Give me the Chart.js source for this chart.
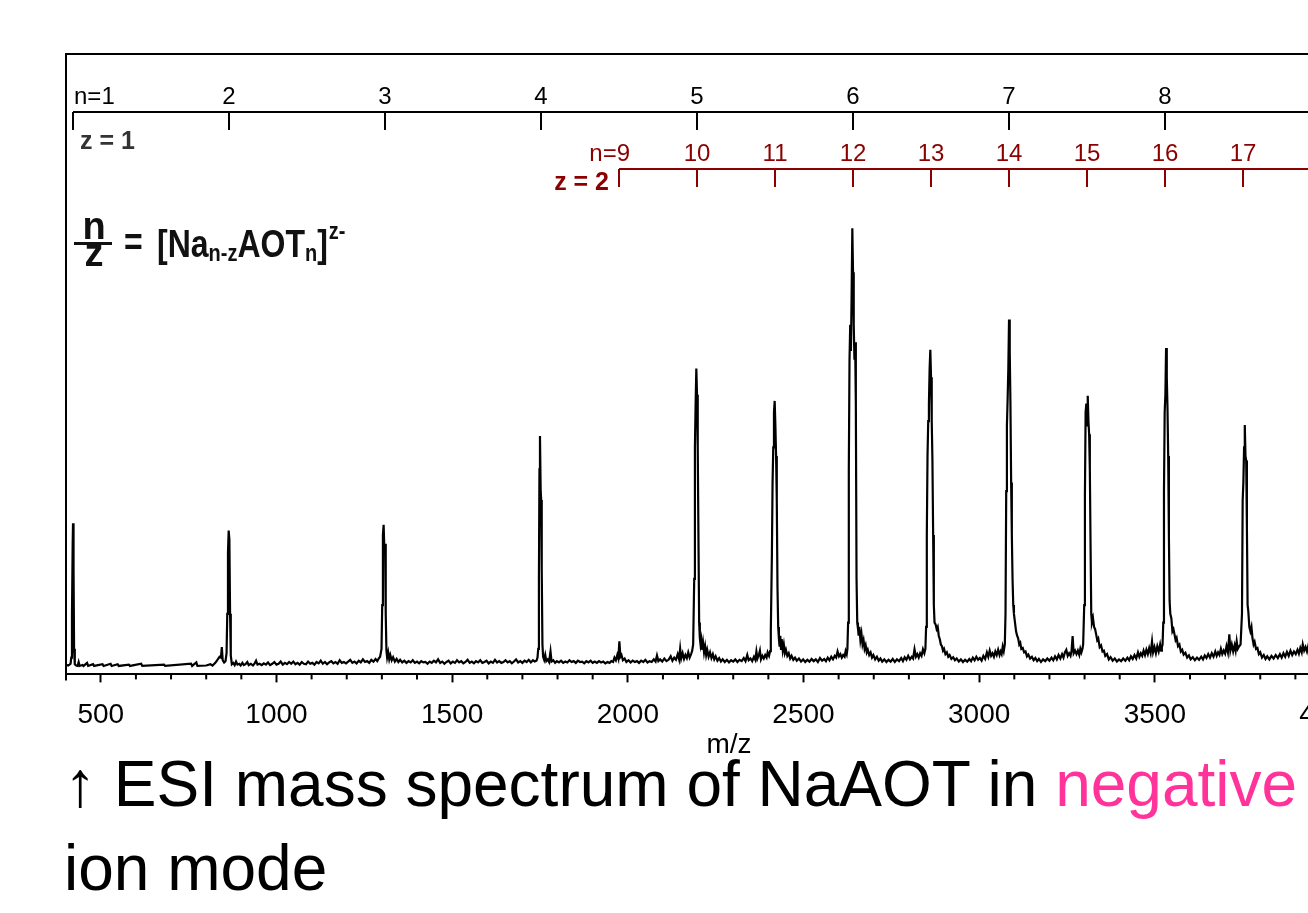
<!DOCTYPE html>
<html>
<head>
<meta charset="utf-8">
<title>ESI mass spectrum of NaAOT</title>
<script src="https://cdn.jsdelivr.net/npm/chart.js@4.4.0/dist/chart.umd.min.js"></script>
<style>
  html, body { margin: 0; padding: 0; background: #fff; overflow: hidden; }
  #page { position: relative; width: 1308px; height: 913px; overflow: hidden; }
  #spectrumChart { position: absolute; left: 0; top: 0; }
  .caption {
    position: absolute; left: 64px; top: 742px;
    font-family: 'Liberation Sans', Arial, sans-serif;
    font-size: 64px; line-height: 84px; color: #000; white-space: nowrap;
  }
  .caption .neg { color: #ff3399; }
</style>
</head>
<body>
<div id="page">
  <canvas id="spectrumChart" width="1410" height="768"></canvas>
  <div class="caption">↑ ESI mass spectrum of NaAOT in <span class="neg">negative</span><br>ion mode</div>
</div>
<script>
// x axis
const mzMin = 401;
const mzMax = 4175;
const majorTicks = [500, 1000, 1500, 2000, 2500, 3000, 3500, 4000];

// cluster series n for z = 1 and z = 2 (m/z of each tick)
const z1Positions = [421, 865, 1309, 1753, 2197, 2641, 3085, 3529, 3973];
const z1Labels = ['n=1', '2', '3', '4', '5', '6', '7', '8', '9'];
const z2Positions = [1975, 2197, 2419, 2641, 2863, 3085, 3307, 3529, 3751, 3973];
const z2Labels = ['n=9', '10', '11', '12', '13', '14', '15', '16', '17', '18'];

// spectrum, [m/z, relative intensity %]
const spectrumA = [[403,0.3],[407,0.2],[411,0.4],[414,0.6],[416,2],[418,12],[420,28],[421,32.7],[422.5,22],[424,4],[426,0.5],[430,0.2],[434,0.1],[437,1.0],[440,0.1],[448,0.3],[451,0.1],[461,0.8],[464,0.1],[478,0.5],[481,0.1],[505,0.5],[508,0.1],[528,0.6],[531,0.1],[548,0.5],[551,0.1],[580,0.4],[583,0.1],[615,0.6],[618,0.1],[680,0.4],[683,0.1],[757,0.6],[760,0.1],[772,0.9],[775,0.1],[800,0.2],[812,0.5],[818,0.2],[826,0.8],[832,1.5],[838,2.2],[842,2.0],[844.5,4.4],[847,1.4],[851,0.9],[855,1.2],[858,3],[860,12],[862,26],[864,31],[866,29],[868,12],[870,2.5],[873,0.5],[877,0.8],[881,0.3],[885,1.1],[889,0.4],[894,0.6],[898,0.2],[903,0.8],[907,0.3],[912,0.5],[917,1.0],[921,0.3],[927,0.6],[933,0.2],[938,0.7],[942,1.3],[946,0.4],[952,0.6],[958,0.3],[964,0.7],[970,0.4],[976,0.9],[982,0.3],[988,0.6],[994,1.0],[1000,0.4],[1006,0.6],[1012,1.1],[1018,0.4],[1024,0.8],[1030,0.5],[1036,1.0],[1042,0.6],[1048,1.1],[1054,0.5],[1060,0.8],[1066,0.4],[1072,1.0],[1078,0.6],[1084,0.5],[1090,1.1],[1096,0.6],[1102,0.8],[1108,0.4],[1114,1.0],[1120,0.7],[1126,1.3],[1132,0.6],[1138,1.0],[1144,0.5],[1150,0.9],[1156,1.2],[1162,0.7],[1168,1.0],[1174,0.6],[1180,1.4],[1186,0.8],[1192,1.0],[1198,0.7],[1204,1.1],[1210,1.5],[1216,0.8],[1222,1.1],[1228,0.7],[1234,1.3],[1240,0.9],[1246,1.6],[1252,1.0],[1258,1.2],[1264,0.8],[1270,1.5],[1276,1.1],[1282,1.7],[1287,1.2],[1291,1.8]];

const spectrumB = [[1295,2.2],[1299,4],[1301,14],[1303,30],[1305,32.3],[1307,27],[1309,28],[1311,12],[1313,3.5],[1315,2.0],[1318,3.2],[1321,1.6],[1324,2.6],[1328,1.4],[1332,2.1],[1337,1.1],[1342,1.7],[1347,1.0],[1352,1.5],[1358,0.9],[1364,1.3],[1370,0.8],[1376,1.2],[1382,0.9],[1388,1.4],[1394,0.8],[1400,1.1],[1406,0.7],[1412,1.2],[1418,0.9],[1424,1.0],[1430,0.6],[1436,1.1],[1442,0.8],[1448,1.3],[1454,0.9],[1460,1.6],[1466,0.8],[1472,1.1],[1478,0.6],[1484,1.0],[1490,1.3],[1496,0.7],[1502,1.1],[1508,0.8],[1514,1.4],[1520,0.9],[1526,1.2],[1532,0.7],[1538,1.0],[1544,1.5],[1550,0.8],[1556,1.1],[1562,0.7],[1568,1.2],[1574,0.9],[1580,1.4],[1586,0.8],[1592,1.0],[1598,1.3],[1604,0.7],[1610,1.1],[1616,0.8],[1622,1.5],[1628,0.9],[1634,1.2],[1640,0.8],[1646,1.0],[1652,1.4],[1658,0.9],[1664,1.2],[1670,0.7],[1676,1.1],[1682,1.6],[1688,0.9],[1694,1.2],[1700,0.8],[1706,1.3],[1712,1.0],[1718,1.5],[1724,0.9],[1730,1.4],[1735,1.1],[1740,1.3],[1743,2],[1745,4],[1747,20],[1748.5,45],[1750,52.6],[1752,40],[1753.5,38],[1755,22],[1757,5],[1759,2.2],[1762,1.5],[1765,2.6],[1768,1.2],[1772,1.6],[1776,1.0],[1780,3.4],[1783,1.1],[1788,1.4],[1793,0.8],[1798,1.2],[1804,0.9],[1810,1.3],[1816,0.8],[1822,1.1],[1828,0.9],[1834,1.4],[1840,1.0],[1846,1.2],[1852,0.8],[1858,1.3],[1864,1.0],[1870,1.1],[1876,0.7],[1882,1.2],[1888,0.9],[1894,1.3],[1900,0.8],[1906,1.1],[1912,0.8],[1918,1.2],[1924,0.9],[1930,1.1],[1936,0.7],[1942,1.0],[1948,0.8],[1953,1.2],[1958,1.0],[1962,2.0],[1966,1.4],[1970,2.6],[1973,1.8],[1976,5.7],[1979,2.2],[1982,2.6],[1986,1.4],[1991,1.8],[1996,1.0],[2002,1.4],[2008,0.9],[2014,1.3],[2020,1.0],[2026,1.2],[2032,0.8],[2038,1.3],[2044,1.0],[2050,1.5],[2056,0.9],[2062,1.2],[2068,1.0],[2074,1.6],[2079,1.1],[2083,2.5],[2087,1.2],[2092,1.6],[2098,1.1],[2104,1.8],[2110,1.2],[2116,1.5],[2122,2.3],[2127,1.3],[2132,2.0],[2137,1.5],[2142,2.8],[2146,1.6],[2149,4.0],[2152,1.8],[2156,3.0],[2160,1.7],[2164,2.6],[2168,1.9],[2172,3.2],[2176,2.0],[2180,2.8],[2183,3.5],[2186,5],[2189,20],[2191,50],[2193,60],[2195,68],[2197,62],[2199,50],[2201,30],[2203,10],[2205,6.5],[2207,5.0],[2209,6.0],[2211,3.8],[2214,5.5],[2217,3.2],[2220,4.6],[2223,2.6],[2226,3.8],[2230,2.2],[2234,3.2],[2238,1.9],[2242,2.8],[2246,1.6],[2250,2.3],[2255,1.3],[2260,1.9],[2265,1.1],[2270,1.6],[2276,1.0],[2282,1.5],[2288,0.9],[2294,1.4],[2300,1.1],[2306,1.6],[2312,1.0],[2318,1.5],[2324,1.2],[2330,1.9],[2335,1.2],[2340,2.6],[2344,1.4],[2349,1.8],[2354,1.2],[2359,2.2],[2363,1.5],[2366,3.4],[2369,1.8],[2373,2.6],[2376,3.6],[2379,1.6],[2383,2.4],[2387,1.8],[2391,2.6],[2395,2.0],[2398,3.2],[2402,2.4],[2405,3.5]];

const spectrumC = [[2407,8],[2410,25],[2412,42],[2414,50],[2416,58],[2418,60.6],[2420,55],[2422,48],[2424,38],[2426,18],[2428,9],[2430,6.4],[2432,4.5],[2434,7.0],[2436,4.0],[2438,6.2],[2441,3.6],[2444,5.0],[2447,3.0],[2450,3.8],[2454,2.4],[2458,3.0],[2462,1.8],[2466,2.4],[2471,1.5],[2476,2.0],[2481,1.3],[2487,1.8],[2493,1.1],[2499,1.6],[2505,1.0],[2511,1.5],[2517,1.1],[2523,1.7],[2529,1.2],[2535,1.6],[2541,1.0],[2547,1.9],[2553,1.3],[2559,1.7],[2564,1.2],[2569,2.0],[2574,1.4],[2579,2.2],[2584,1.6],[2589,2.4],[2593,2.0],[2597,3.4],[2601,2.3],[2605,2.8],[2609,2.0],[2613,2.6],[2617,2.2],[2620,3.5],[2623,2.8],[2625,4],[2627,10],[2629,45],[2631,70],[2633,78],[2635,72],[2637,85],[2639,100],[2641,90],[2643,78],[2645,70],[2647,74],[2649,60],[2651,20],[2653,10],[2655,8.7],[2657,7],[2659,9],[2662,6],[2665,7.5],[2668,5],[2671,6],[2674,4],[2677,4.8],[2680,3.2],[2683,3.8],[2687,2.6],[2691,3.2],[2695,2.0],[2699,2.6],[2704,1.6],[2709,2.2],[2714,1.3],[2719,1.8],[2724,1.1],[2730,1.6],[2736,1.0],[2742,1.5],[2748,1.1],[2754,1.7],[2760,1.0],[2766,1.6],[2772,1.2],[2778,1.9],[2783,1.2],[2788,2.1],[2793,1.5],[2798,2.4],[2803,1.6],[2808,2.2],[2812,1.8],[2816,3.9],[2820,2.2],[2824,2.8],[2828,2.0],[2832,3.0],[2836,2.4],[2840,3.9],[2844,3.0],[2847,4],[2849,9],[2851,30],[2853,48],[2855,56],[2857,60],[2859,68],[2861,72.3],[2863,66],[2865,56],[2867,47],[2869,30],[2871,14],[2873,10],[2876,9.6],[2879,8.5],[2882,9],[2885,7],[2888,6.2],[2891,5],[2894,4.6],[2897,3.6],[2900,4.0],[2904,2.8],[2908,3.2],[2912,2.2],[2916,2.6],[2921,1.7],[2926,2.1],[2931,1.4],[2936,1.8],[2942,1.1],[2948,1.6],[2954,1.0],[2960,1.5],[2966,1.1],[2972,1.7],[2977,1.2],[2982,2.0],[2987,1.4],[2992,2.2],[2997,1.5]];

const spectrumD = [[3002,1.9],[3007,1.3],[3012,2.4],[3017,1.7],[3022,3.2],[3026,2.2],[3030,3.6],[3034,2.4],[3038,3.0],[3042,2.2],[3046,3.4],[3050,2.6],[3054,3.8],[3058,2.6],[3061,3.4],[3064,2.8],[3067,4.5],[3070,3.5],[3073,5],[3075,12],[3077,40],[3079,55],[3081,61],[3083,68],[3085,79.2],[3087,72],[3089,60],[3091,42],[3093,30],[3095,20],[3097,14],[3099,12],[3102,10],[3105,8],[3108,7],[3111,6.4],[3114,5],[3117,5.4],[3120,4],[3124,4.2],[3128,3.2],[3132,3.4],[3136,2.3],[3140,2.7],[3145,1.8],[3150,2.2],[3155,1.4],[3160,1.9],[3165,1.2],[3170,1.7],[3176,1.0],[3182,1.6],[3188,1.2],[3194,1.8],[3200,1.3],[3206,2.0],[3211,1.4],[3216,2.3],[3221,1.6],[3226,2.6],[3231,1.8],[3236,2.8],[3240,2.0],[3244,3.2],[3248,3.8],[3252,2.4],[3256,3.0],[3260,2.4],[3263,3.6],[3266,6.9],[3269,3.0],[3273,3.6],[3277,2.8],[3281,3.6],[3285,2.6],[3288,4.0],[3291,3.2],[3294,4],[3296,5],[3299,14],[3301,39],[3303,58],[3305,60],[3307,55],[3309,61.8],[3311,56],[3313,53],[3315,45],[3317,28],[3319,12],[3321,10],[3324,11],[3327,9],[3330,8.5],[3333,7.3],[3336,6],[3339,6.4],[3343,4.4],[3347,4.8],[3351,3.4],[3355,3.6],[3359,2.4],[3364,2.8],[3369,1.6],[3374,2.1],[3380,1.3],[3386,1.8],[3392,1.1],[3398,1.6],[3404,1.2],[3410,1.8],[3416,1.3],[3422,2.0],[3427,1.4],[3432,2.3],[3437,1.7],[3442,2.6],[3447,1.8],[3452,3.2],[3456,2.2],[3460,3.0],[3464,2.4],[3468,3.6],[3472,2.6],[3476,3.8],[3480,2.8],[3484,4.2],[3488,3.0],[3492,5.7],[3495,3.2],[3499,4.4],[3503,3.0],[3507,4.6],[3511,3.4],[3515,5.0],[3518,3.6],[3520,4.4],[3522,5],[3524,10],[3526,40],[3528,58],[3530,62],[3532,72.7],[3534,66],[3536,59],[3538,48],[3540,30],[3542,15],[3544,12],[3547,11],[3550,8],[3553,8.5],[3556,7.3],[3559,6],[3562,6.5],[3566,4.6],[3570,5],[3574,3.4],[3578,3.8],[3582,2.7],[3587,3.1],[3592,2.0],[3597,2.5],[3602,1.6],[3608,2.1],[3614,1.4],[3620,2.0],[3626,1.5],[3632,2.2],[3637,1.6],[3642,2.5],[3647,1.9],[3652,2.8],[3657,2.0],[3662,3.0],[3667,2.2],[3672,3.4],[3676,2.4],[3680,3.2],[3684,2.6],[3688,4.0],[3692,2.8],[3696,3.6],[3700,2.9],[3704,4.6],[3708,3.2],[3712,7.3],[3715,3.6],[3719,5.0],[3723,3.4],[3727,4.8],[3730,3.6],[3733,5.7],[3736,4.0],[3740,4.6],[3744,5],[3748,12],[3750,38],[3752,42],[3754,50],[3756,55.1],[3758,48],[3760,47],[3762,32],[3764,14],[3766,12.6],[3769,9],[3772,8],[3775,9],[3778,6.4],[3781,5],[3784,5.6],[3788,4],[3792,4.2],[3796,2.8],[3800,3.2],[3805,2.0],[3810,2.6],[3815,1.7],[3820,2.3],[3826,1.6],[3832,2.4],[3838,1.8],[3844,2.6],[3850,1.9],[3856,2.8],[3861,2.0],[3866,3.0],[3871,2.2],[3876,3.3],[3881,2.4],[3886,3.6],[3891,2.6],[3896,3.4],[3901,2.8],[3906,3.8],[3910,2.9],[3914,4.2],[3918,3.2],[3921,5.0],[3925,3.6],[3929,4.4],[3933,3.4],[3937,4.8],[3941,3.6],[3945,5.2],[3949,4.0],[3953,5.5],[3957,4.2],[3961,6.0]];

const FONT = "'Liberation Sans', Arial, Helvetica, sans-serif";
const DARK_RED = '#8b0000';

function drawRuler(ctx, x, area, positions, labels, lineY, color, firstAlign, firstDx) {
    ctx.strokeStyle = color;
    ctx.fillStyle = color;
    ctx.lineWidth = 2;
    ctx.beginPath();
    ctx.moveTo(x.getPixelForValue(positions[0]), lineY);
    ctx.lineTo(area.right, lineY);
    ctx.stroke();
    ctx.font = '24px ' + FONT;
    ctx.textBaseline = 'alphabetic';
    positions.forEach((p, i) => {
        const px = x.getPixelForValue(p);
        ctx.beginPath();
        ctx.moveTo(px, lineY);
        ctx.lineTo(px, lineY + 18);
        ctx.stroke();
        if (i === 0) {
            ctx.textAlign = firstAlign;
            ctx.fillText(labels[i], px + firstDx, lineY - 8);
        } else {
            ctx.textAlign = 'center';
            ctx.fillText(labels[i], px, lineY - 8);
        }
    });
}

// draw a piece of the formula, slightly stretched vertically like the original
function stretchedText(ctx, text, px, py, size) {
    ctx.save();
    ctx.translate(px, py);
    ctx.scale(1, 1.2);
    ctx.font = 'bold ' + size + 'px ' + FONT;
    ctx.fillText(text, 0, 0);
    const w = ctx.measureText(text).width;
    ctx.restore();
    return px + w;
}

const annotationPlugin = {
    id: 'annotations',
    afterDraw(chart) {
        const ctx = chart.ctx;
        const a = chart.chartArea;
        const x = chart.scales.x;
        ctx.save();

        // frame: top and left
        ctx.strokeStyle = '#000';
        ctx.lineWidth = 2;
        ctx.beginPath();
        ctx.moveTo(a.left, a.bottom + 6);
        ctx.lineTo(a.left, a.top);
        ctx.lineTo(a.right, a.top);
        ctx.stroke();

        // minor ticks every 100
        for (let v = 500; v < mzMax; v += 100) {
            if (v % 500 === 0) continue;
            const px = x.getPixelForValue(v);
            ctx.beginPath();
            ctx.moveTo(px, a.bottom);
            ctx.lineTo(px, a.bottom + 5);
            ctx.stroke();
        }

        // axis title
        ctx.fillStyle = '#000';
        ctx.font = '28px ' + FONT;
        ctx.textAlign = 'center';
        ctx.textBaseline = 'middle';
        ctx.fillText('m/z', (a.left + a.right) / 2, a.bottom + 71);

        // z = 1 series
        drawRuler(ctx, x, a, z1Positions, z1Labels, a.top + 58, '#000', 'left', 1);
        ctx.font = 'bold 25px ' + FONT;
        ctx.fillStyle = '#333';
        ctx.textAlign = 'left';
        ctx.textBaseline = 'middle';
        ctx.fillText('z = 1', a.left + 14, a.top + 88);

        // z = 2 series
        drawRuler(ctx, x, a, z2Positions, z2Labels, a.top + 115, DARK_RED, 'right', 11);
        ctx.font = 'bold 25px ' + FONT;
        ctx.fillStyle = DARK_RED;
        ctx.textAlign = 'right';
        ctx.textBaseline = 'middle';
        ctx.fillText('z = 2', x.getPixelForValue(z2Positions[0]) - 10, a.top + 129);

        // formula  n/z = [Na(n-z)AOT(n)]^(z-)
        ctx.fillStyle = '#111';
        ctx.textAlign = 'left';
        ctx.textBaseline = 'alphabetic';
        const fx = a.left + 8;
        const fy = a.top + 203;
        ctx.save();
        ctx.textAlign = 'center';
        ctx.font = 'bold 38px ' + FONT;
        ctx.fillText('n', fx + 20, fy - 18);
        ctx.fillText('z', fx + 20, fy + 9);
        ctx.restore();
        ctx.fillRect(fx, fy - 15, 38, 3);
        stretchedText(ctx, '=', fx + 50, fy - 2, 32);
        let cx = fx + 83;
        cx = stretchedText(ctx, '[Na', cx, fy, 32);
        cx = stretchedText(ctx, 'n-z', cx, fy + 4, 20);
        cx = stretchedText(ctx, 'AOT', cx, fy, 32);
        cx = stretchedText(ctx, 'n', cx, fy + 4, 20);
        cx = stretchedText(ctx, ']', cx, fy, 32);
        stretchedText(ctx, 'z-', cx + 1, fy - 18, 20);

        ctx.restore();
    }
};

const spectrum = spectrumA.concat(spectrumB, spectrumC, spectrumD);

const ctx = document.getElementById('spectrumChart').getContext('2d');
const chart = new Chart(ctx, {
    type: 'line',
    data: {
        datasets: [{
            label: 'NaAOT negative ion mode',
            data: spectrum.map(p => ({ x: p[0], y: p[1] })),
            borderColor: '#000',
            borderWidth: 2.2,
            pointRadius: 0,
            tension: 0,
            fill: false
        }]
    },
    options: {
        responsive: false,
        animation: false,
        layout: { padding: { left: 66, right: 18, top: 54, bottom: 20 } },
        plugins: {
            legend: { display: false },
            tooltip: { enabled: false }
        },
        scales: {
            x: {
                type: 'linear',
                min: mzMin,
                max: mzMax,
                afterBuildTicks: function (scale) {
                    scale.ticks = majorTicks.map(v => ({ value: v }));
                },
                grid: {
                    display: true,
                    drawOnChartArea: false,
                    drawTicks: true,
                    tickLength: 8,
                    tickWidth: 2,
                    tickColor: '#000'
                },
                border: { display: true, color: '#000', width: 2 },
                ticks: {
                    color: '#000',
                    font: { size: 28, family: FONT },
                    padding: 16,
                    maxRotation: 0,
                    autoSkip: false,
                    callback: v => String(v)
                },
                title: { display: false }
            },
            y: {
                display: false,
                min: -1.83,
                max: 139.8
            }
        }
    },
    plugins: [annotationPlugin]
});
</script>
</body>
</html>
